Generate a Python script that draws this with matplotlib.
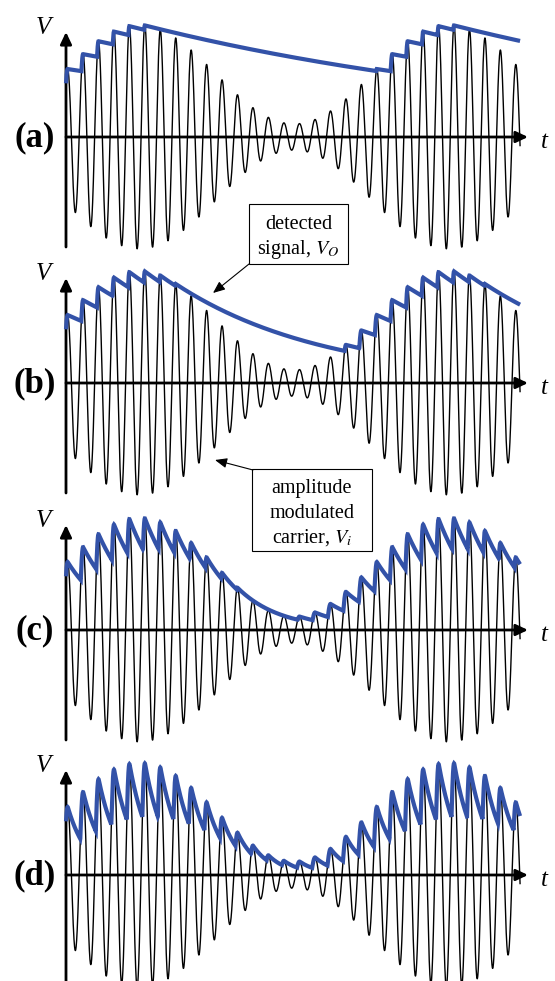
import numpy as np
import matplotlib
matplotlib.use('Agg')
import matplotlib.pyplot as plt
from matplotlib.patches import Rectangle, FancyArrowPatch

# ---------------- data ----------------
panel_labels = ['(a)', '(b)', '(c)', '(d)']
rc_time_constants = [28.5, 9.7, 2.75, 1.28]   # detector RC, in carrier periods
carrier_end = 29.37          # length of the trace, carrier periods
carrier_first_crest = 0.10   # time of first carrier crest
mod_depth = 0.79             # modulation index m
mod_period = 20.0            # modulation period, in carrier periods
env_peak_time = 4.75         # time of the first envelope maximum
axis_v_label = 'V'
axis_t_label = 't'
box1_lines = ['detected', r'signal, $V_O$']
box2_lines = ['amplitude', 'modulated', r'carrier, $V_i$']

# ---------------- layout ----------------
W, H = 555, 981
PX_T = 15.46     # pixels per carrier period
PX_V = 62.5      # pixels per unit carrier amplitude
X0, X_ARROW = 66, 528
zeros = [137, 383, 630, 875]
BLUE = '#3352A8'

plt.rcParams['mathtext.fontset'] = 'stix'
SERIF = ['Liberation Serif', 'DejaVu Serif']

fig = plt.figure(figsize=(W / 100, H / 100), dpi=100)


def fx(px):
    return px / W


def fy(py):
    return 1 - py / H


t = np.linspace(0, carrier_end, 8000)
envelope = 1 + mod_depth * np.cos(2 * np.pi * (t - env_peak_time) / mod_period)
vi = envelope * np.cos(2 * np.pi * (t - carrier_first_crest))


def detector(vin, tt, tau):
    out = np.empty_like(vin)
    v = max(vin[0], 0.0)
    out[0] = v
    for k in range(1, len(vin)):
        dt = tt[k] - tt[k - 1]
        v = v * np.exp(-dt / tau)
        if vin[k] > v:
            v = vin[k]
        out[k] = v
    return out


xmax = (X_ARROW - X0) / PX_T
for i, z in enumerate(zeros):
    ax = fig.add_axes([fx(X0), fy(z + 113), (X_ARROW - X0) / W, 226 / H])
    ax.set_xlim(0, xmax)
    ax.set_ylim(-113 / PX_V, 113 / PX_V)
    ax.axis('off')

    ax.plot(t, vi, color='k', lw=1.0, clip_on=False, zorder=2)
    vo = detector(vi, t, rc_time_constants[i])
    ax.plot(t, vo, color=BLUE, lw=3.0, clip_on=False, zorder=4,
            solid_joinstyle='miter', solid_capstyle='butt')

    aprops = dict(arrowstyle='-|>,head_length=0.55,head_width=0.26',
                  mutation_scale=13, lw=2.0, color='k',
                  shrinkA=0, shrinkB=0)
    ax.annotate('', xy=(xmax, 0), xytext=(0, 0), arrowprops=aprops,
                annotation_clip=False, zorder=3)
    ax.annotate('', xy=(0, 105 / PX_V), xytext=(0, -110 / PX_V),
                arrowprops=aprops, annotation_clip=False, zorder=3)

    fig.text(fx(43), fy(z - 103), axis_v_label, family=SERIF, style='italic',
             fontsize=18, ha='center', va='baseline')
    fig.text(fx(544), fy(z + 11), axis_t_label, family=SERIF, style='italic',
             fontsize=18, ha='center', va='baseline')
    fig.text(fx(35), fy(z + 1), panel_labels[i], family=SERIF,
             weight='bold', fontsize=25, ha='center', va='center')

# ---------------- annotation boxes ----------------
def box(x0, y0, x1, y1, lines, baselines):
    r = Rectangle((fx(x0), fy(y1)), (x1 - x0) / W, (y1 - y0) / H,
                  transform=fig.transFigure, fc='white', ec='k', lw=0.8,
                  zorder=10)
    fig.add_artist(r)
    for s, b in zip(lines, baselines):
        fig.text(fx((x0 + x1) / 2), fy(b), s, family=SERIF, fontsize=14.5,
                 ha='center', va='baseline', zorder=11)


def arrow(p0, p1):
    a = FancyArrowPatch((fx(p0[0]), fy(p0[1])), (fx(p1[0]), fy(p1[1])),
                        transform=fig.transFigure,
                        arrowstyle='-|>,head_length=0.6,head_width=0.25',
                        mutation_scale=12, lw=0.8, color='k',
                        shrinkA=0, shrinkB=0, zorder=11)
    fig.add_artist(a)


box(249, 204, 348, 264, box1_lines, [229, 254])
arrow((249, 264), (213, 293))
box(252, 469, 372, 551, box2_lines, [493, 518, 543])
arrow((253, 470), (215, 460))

fig.savefig('out.png', dpi=100)
